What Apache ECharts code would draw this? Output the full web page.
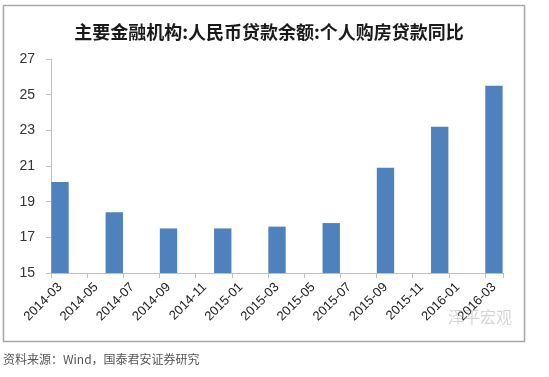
<!DOCTYPE html>
<html>
<head>
<meta charset="utf-8">
<script src="https://cdn.jsdelivr.net/npm/echarts@6/dist/echarts.min.js"></script>
<style>
html,body{margin:0;padding:0;background:#fff;}
#chart{width:549px;height:377px;}
</style>
</head>
<body>
<div id="chart"></div>
<script>
// Month axis (monthly bands, labelled every 2 months)
var months = ['2014-03','2014-04','2014-05','2014-06','2014-07','2014-08','2014-09','2014-10','2014-11','2014-12',
              '2015-01','2015-02','2015-03','2015-04','2015-05','2015-06','2015-07','2015-08','2015-09','2015-10',
              '2015-11','2015-12','2016-01','2016-02','2016-03'];
// Quarterly observations
var dates = ['2014-03','2014-06','2014-09','2014-12','2015-03','2015-06','2015-09','2015-12','2016-03'];
var values = [20.1, 18.4, 17.5, 17.5, 17.6, 17.8, 20.9, 23.2, 25.5];
var yTicks = [15, 17, 19, 21, 23, 25, 27];

var titleText = '主要金融机构:人民币贷款余额:个人购房贷款同比';
var sourceText = '资料来源：Wind，国泰君安证券研究';

var seriesData = months.map(function (m) {
  var i = dates.indexOf(m);
  return i >= 0 ? values[i] : '-';
});

var chart = echarts.init(document.getElementById('chart'), null, {renderer: 'canvas'});
chart.setOption({
  animation: false,
  backgroundColor: '#fff',
  title: {
    text: titleText,
    left: 264,
    top: 18,
    textAlign: 'center',
    textStyle: {
      fontFamily: 'Noto Sans CJK SC',
      fontSize: 18,
      fontWeight: 'bold',
      color: '#1a1a1a'
    }
  },
  grid: {left: 51, right: 46, top: 59, bottom: 104, containLabel: false},
  xAxis: {
    type: 'category',
    data: months,
    boundaryGap: true,
    axisLine: {show: true, lineStyle: {color: '#bfbfbf', width: 1}},
    axisTick: {show: true, interval: 1, alignWithLabel: false, length: 5, lineStyle: {color: '#bfbfbf'}},
    axisLabel: {
      interval: 1,
      rotate: 45,
      margin: 12,
      fontFamily: 'Liberation Sans',
      fontSize: 13,
      color: '#222'
    }
  },
  yAxis: {
    type: 'value',
    min: yTicks[0],
    max: yTicks[yTicks.length - 1],
    interval: 2,
    splitLine: {show: false},
    axisLine: {show: true, lineStyle: {color: '#bfbfbf', width: 1}},
    axisTick: {show: true, length: 5, lineStyle: {color: '#bfbfbf'}},
    axisLabel: {
      margin: 16,
      fontFamily: 'Liberation Sans',
      fontSize: 14,
      color: '#333'
    }
  },
  series: [{
    type: 'bar',
    data: seriesData,
    barWidth: '96%',
    itemStyle: {color: '#4F81BD'}
  }],
  graphic: [
    {
      type: 'rect',
      shape: {x: 3.5, y: 5.5, width: 521, height: 336},
      style: {fill: 'none', stroke: '#a6a6a6', lineWidth: 1.5},
      silent: true,
      z: -1
    },
    {
      type: 'text',
      left: 448,
      top: 309,
      style: {
        text: '泽平宏观',
        fontFamily: 'Noto Sans CJK SC',
        fontSize: 16,
        fill: 'rgba(160,160,160,0.45)'
      },
      silent: true,
      z: 10
    },
    {
      type: 'text',
      left: 3,
      top: 353,
      style: {
        text: sourceText,
        fontFamily: 'Noto Sans CJK SC',
        fontSize: 12,
        fill: '#555'
      },
      silent: true
    }
  ]
});
</script>
</body>
</html>
